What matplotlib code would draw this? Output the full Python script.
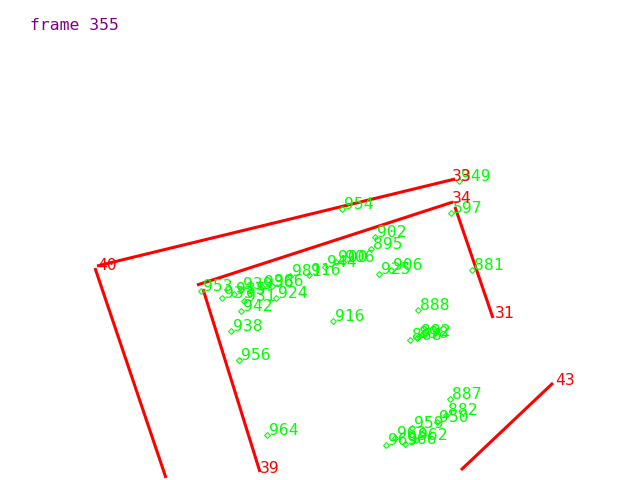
import matplotlib
matplotlib.use("Agg")
import matplotlib.pyplot as plt

title_text = "frame 355"

# red segments (x0, y0, x1, y1) in image pixel coordinates
seg_x0 = [95, 97, 197, 203, 455, 553]
seg_y0 = [268, 266, 285, 289, 207, 383]
seg_x1 = [166, 455, 453, 260, 493, 461]
seg_y1 = [478, 179, 202, 472, 318, 470]

# red labels
red_labels = ["40", "33", "34", "39", "31", "43"]
red_x = [97, 452, 452, 260, 495, 555]
red_y = [270, 181, 203, 473, 318, 385]

# green points
pt_labels = ["949", "597", "954", "902", "895", "881", "925", "906",
             "953", "939", "933", "935", "931", "942", "924", "936",
             "986", "981", "916", "944", "900", "906", "916", "938",
             "956", "964", "888", "868", "898", "892", "887", "882",
             "950", "959", "962", "963", "969", "966"]
pt_x = [459, 451, 342, 375, 371, 472, 379, 391,
        201, 241, 222, 234, 244, 241, 276, 262,
        272, 290, 309, 325, 336, 343, 333, 231,
        239, 267, 418, 410, 417, 419, 450, 446,
        437, 412, 416, 395, 386, 405]
pt_y = [181, 213, 209, 237, 249, 270, 274, 270,
        291, 289, 298, 294, 301, 311, 298, 287,
        286, 276, 275, 267, 262, 262, 321, 331,
        360, 435, 310, 340, 338, 336, 399, 415,
        422, 428, 440, 438, 445, 444]

fig = plt.figure(figsize=(6.4, 4.8), dpi=100)
ax = fig.add_axes([0, 0, 1, 1])
ax.set_xlim(0, 640)
ax.set_ylim(480, 0)
ax.axis("off")

font = dict(family="DejaVu Sans Mono", fontsize=11.8)

for x0, y0, x1, y1 in zip(seg_x0, seg_y0, seg_x1, seg_y1):
    ax.plot([x0, x1], [y0, y1], color="#ff0000", lw=2.2, solid_capstyle="butt")

ax.plot(pt_x, pt_y, linestyle="none", marker="D", markersize=3,
        markerfacecolor="none", markeredgecolor="#00ff00", markeredgewidth=0.8)
for lab, x, y in zip(pt_labels, pt_x, pt_y):
    ax.text(x + 2, y, lab, color="#00ff00", ha="left", va="baseline", **font)

for lab, x, y in zip(red_labels, red_x, red_y):
    ax.text(x, y, lab, color="#ff0000", ha="left", va="baseline", **font)

ax.text(30, 30, title_text, color="#800080", ha="left", va="baseline", **font)

fig.savefig("out.png", dpi=100)
